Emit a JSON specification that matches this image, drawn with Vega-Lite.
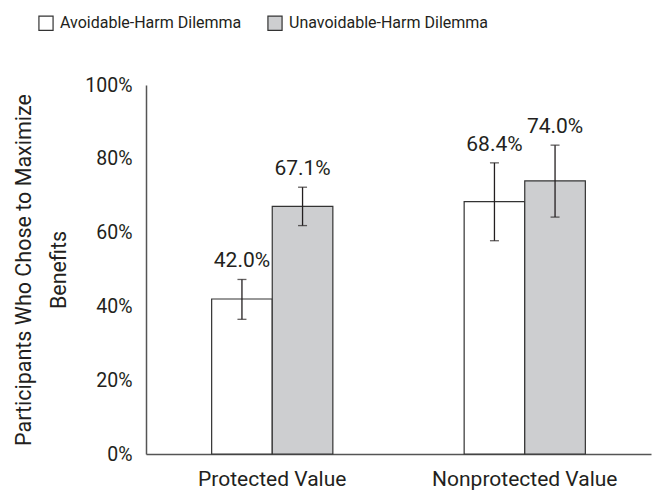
{
  "$schema": "https://vega.github.io/schema/vega-lite/v6.json",
  "width": 505,
  "height": 369,
  "autosize": {"type": "none"},
  "padding": {"left": 146, "top": 85, "right": 5, "bottom": 41},
  "background": "white",
  "config": {
    "view": {"stroke": null},
    "font": "Roboto",
    "text": {"font": "Roboto"}
  },
  "data": {
    "values": [
      {"condition": "Protected Value", "dilemma": "Avoidable-Harm Dilemma", "value": 0.420, "lower": 0.365, "upper": 0.473, "label": "42.0%"},
      {"condition": "Protected Value", "dilemma": "Unavoidable-Harm Dilemma", "value": 0.671, "lower": 0.619, "upper": 0.723, "label": "67.1%"},
      {"condition": "Nonprotected Value", "dilemma": "Avoidable-Harm Dilemma", "value": 0.684, "lower": 0.578, "upper": 0.789, "label": "68.4%"},
      {"condition": "Nonprotected Value", "dilemma": "Unavoidable-Harm Dilemma", "value": 0.740, "lower": 0.642, "upper": 0.837, "label": "74.0%"}
    ]
  },
  "encoding": {
    "x": {
      "field": "condition",
      "type": "nominal",
      "sort": ["Protected Value", "Nonprotected Value"],
      "scale": {"paddingInner": 0.52, "paddingOuter": 0.26},
      "axis": {
        "title": null,
        "labelAngle": 0,
        "ticks": false,
        "labelFontSize": 21,
        "labelColor": "#231f20",
        "labelPadding": 14,
        "labelLimit": 400,
        "domainColor": "#555555",
        "domainWidth": 1.5,
        "labelFont": "Roboto"
      }
    },
    "xOffset": {
      "field": "dilemma",
      "type": "nominal",
      "sort": ["Avoidable-Harm Dilemma", "Unavoidable-Harm Dilemma"],
      "scale": {"paddingInner": 0, "paddingOuter": 0}
    }
  },
  "layer": [
    {
      "mark": {"type": "bar", "stroke": "#333333", "strokeWidth": 1.2},
      "encoding": {
        "y": {
          "field": "value",
          "type": "quantitative",
          "scale": {"domain": [0, 1]},
          "axis": {
            "values": [0, 0.2, 0.4, 0.6, 0.8, 1],
            "format": ".0%",
            "grid": false,
            "ticks": false,
            "labelFontSize": 19.5,
            "labelColor": "#231f20",
            "labelPadding": 14,
            "domainColor": "#555555",
            "domainWidth": 1.5,
            "labelFont": "Roboto",
            "title": ["Participants Who Chose to Maximize", "Benefits"],
            "titleFont": "Roboto",
            "titleFontSize": 21.5,
            "titleFontWeight": "normal",
            "titleColor": "#231f20",
            "titleLineHeight": 35,
            "titlePadding": 14
          }
        },
        "fill": {
          "field": "dilemma",
          "type": "nominal",
          "sort": ["Avoidable-Harm Dilemma", "Unavoidable-Harm Dilemma"],
          "scale": {"range": ["#ffffff", "#cdced0"]},
          "legend": {
            "title": null,
            "orient": "none",
            "direction": "horizontal",
            "legendX": -108,
            "legendY": -70,
            "symbolType": "square",
            "symbolSize": 200,
            "symbolStrokeColor": "#333333",
            "symbolStrokeWidth": 1.2,
            "labelFontSize": 16,
            "labelFont": "Roboto",
            "labelColor": "#231f20",
            "labelOffset": 6,
            "columnPadding": 23,
            "labelLimit": 400
          }
        }
      }
    },
    {
      "mark": {"type": "rule", "stroke": "#231f20", "strokeWidth": 1.3},
      "encoding": {
        "y": {"field": "lower", "type": "quantitative"},
        "y2": {"field": "upper"}
      }
    },
    {
      "mark": {"type": "tick", "color": "#231f20", "thickness": 1.3, "size": 9},
      "encoding": {
        "y": {"field": "lower", "type": "quantitative"}
      }
    },
    {
      "mark": {"type": "tick", "color": "#231f20", "thickness": 1.3, "size": 9},
      "encoding": {
        "y": {"field": "upper", "type": "quantitative"}
      }
    },
    {
      "mark": {"type": "text", "fontSize": 21, "color": "#231f20", "dy": -12, "baseline": "alphabetic"},
      "encoding": {
        "y": {"field": "upper", "type": "quantitative"},
        "text": {"field": "label"}
      }
    }
  ]
}
